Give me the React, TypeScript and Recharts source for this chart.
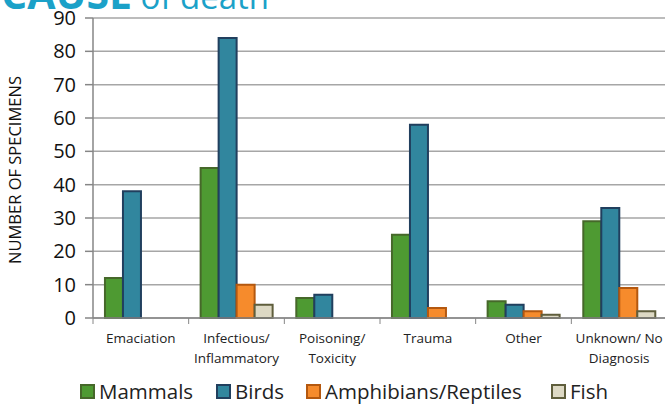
import React from 'react';
import { BarChart, Bar, XAxis, YAxis, CartesianGrid, Legend } from 'recharts';

const categories = ['Emaciation', 'Infectious/\nInflammatory', 'Poisoning/\nToxicity', 'Trauma', 'Other', 'Unknown/ No\nDiagnosis'];
const mammals = [12, 45, 6, 25, 5, 29];
const birds = [38, 84, 7, 58, 4, 33];
const amphibians = [0, 10, 0, 3, 2, 9];
const fish = [0, 4, 0, 0, 1, 2];
const yTicks = [0, 10, 20, 30, 40, 50, 60, 70, 80, 90];

const series = [
    { key: 'mammals', name: 'Mammals', fill: '#4E9A32', stroke: '#46682A' },
    { key: 'birds', name: 'Birds', fill: '#31869E', stroke: '#213F5E' },
    { key: 'amphibians', name: 'Amphibians/Reptiles', fill: '#F68B2C', stroke: '#B4580F' },
    { key: 'fish', name: 'Fish', fill: '#DDD9C4', stroke: '#5F5E3C' },
];

const data = categories.map((name, i) => ({
    name,
    mammals: mammals[i],
    birds: birds[i],
    amphibians: amphibians[i],
    fish: fish[i],
}));

const FONT = '"Open Sans", "Noto Sans", sans-serif';
const CHART_W = 680;
const CHART_H = 405;
const Y_AXIS_W = 93;
const RIGHT = 13;
const BAND = (CHART_W - Y_AXIS_W - RIGHT) / categories.length;
// largura de cada item da legenda, para ficar como no original
const LEGEND_ITEM_W = [136, 90, 245, 70];

// etiquetas em duas linhas + marcas nos limites das categorias
const CategoryTick = (props: any) => {
    const { x, y, payload, index } = props;
    const lines = String(payload.value).split('\n');
    return (
        <g>
            <line x1={x - BAND / 2} x2={x - BAND / 2} y1={y} y2={y + 6} stroke="#868686" />
            {index === categories.length - 1 && (
                <line x1={x + BAND / 2} x2={x + BAND / 2} y1={y} y2={y + 6} stroke="#868686" />
            )}
            <text x={x} y={y + 25} textAnchor="middle" fontSize={13.5} fill="#222" fontFamily={FONT}>
                {lines.map((l, i) => (
                    <tspan key={i} x={x} dy={i === 0 ? 0 : 20}>{l}</tspan>
                ))}
            </text>
        </g>
    );
};

const LegendContent = () => (
    <div style={{ display: 'flex', alignItems: 'center', height: 24, lineHeight: '24px', fontFamily: FONT, fontSize: 20.5, color: '#222' }}>
        {series.map((s, i) => (
            <div key={s.key} style={{ display: 'flex', alignItems: 'center', width: LEGEND_ITEM_W[i], whiteSpace: 'nowrap' }}>
                <span style={{ display: 'inline-block', width: 11, height: 11, background: s.fill, border: `2px solid ${s.stroke}`, marginRight: 4 }} />
                <span>{s.name}</span>
            </div>
        ))}
    </div>
);

const App: React.FC = () => {
    return (
        <div style={{ position: 'absolute', left: 0, top: 0, width: 665, height: 405, overflow: 'hidden', background: '#fff' }}>
            <div style={{ position: 'absolute', left: 1, top: -34, whiteSpace: 'nowrap', color: '#1BA1C8', fontFamily: FONT, lineHeight: '54px', zIndex: 2 }}>
                <span style={{ fontWeight: 700, fontSize: 41 }}>CAUSE</span>
                <span style={{ fontSize: 33 }}> of death</span>
            </div>
            <BarChart
                width={CHART_W}
                height={CHART_H}
                data={data}
                margin={{ top: 18, right: RIGHT, left: 0, bottom: 0 }}
                barCategoryGap="12.5%"
                barGap={0}
            >
                <CartesianGrid vertical={false} stroke="#A6A6A6" strokeWidth={1.5} />
                <XAxis
                    dataKey="name"
                    height={63}
                    interval={0}
                    tickLine={false}
                    tickSize={0}
                    tickMargin={0}
                    stroke="#868686"
                    strokeWidth={1.5}
                    tick={<CategoryTick />}
                />
                <YAxis
                    width={Y_AXIS_W}
                    domain={[0, 90]}
                    ticks={yTicks}
                    interval={0}
                    tickSize={8}
                    tickMargin={9}
                    stroke="#868686"
                    strokeWidth={1.5}
                    tick={{ fontSize: 20, fill: '#111', fontFamily: FONT }}
                    label={{
                        value: 'NUMBER OF SPECIMENS',
                        angle: -90,
                        position: 'insideLeft',
                        offset: 0,
                        dx: 15,
                        dy: 2,
                        style: { textAnchor: 'middle', fontSize: 16.5, fill: '#111', fontFamily: FONT },
                    }}
                />
                <Legend content={<LegendContent />} wrapperStyle={{ left: 80, top: 379, width: 'auto' }} />
                {series.map((s) => (
                    <Bar
                        key={s.key}
                        dataKey={s.key}
                        name={s.name}
                        fill={s.fill}
                        stroke={s.stroke}
                        strokeWidth={2}
                        isAnimationActive={false}
                    />
                ))}
            </BarChart>
        </div>
    );
};

export default App;
